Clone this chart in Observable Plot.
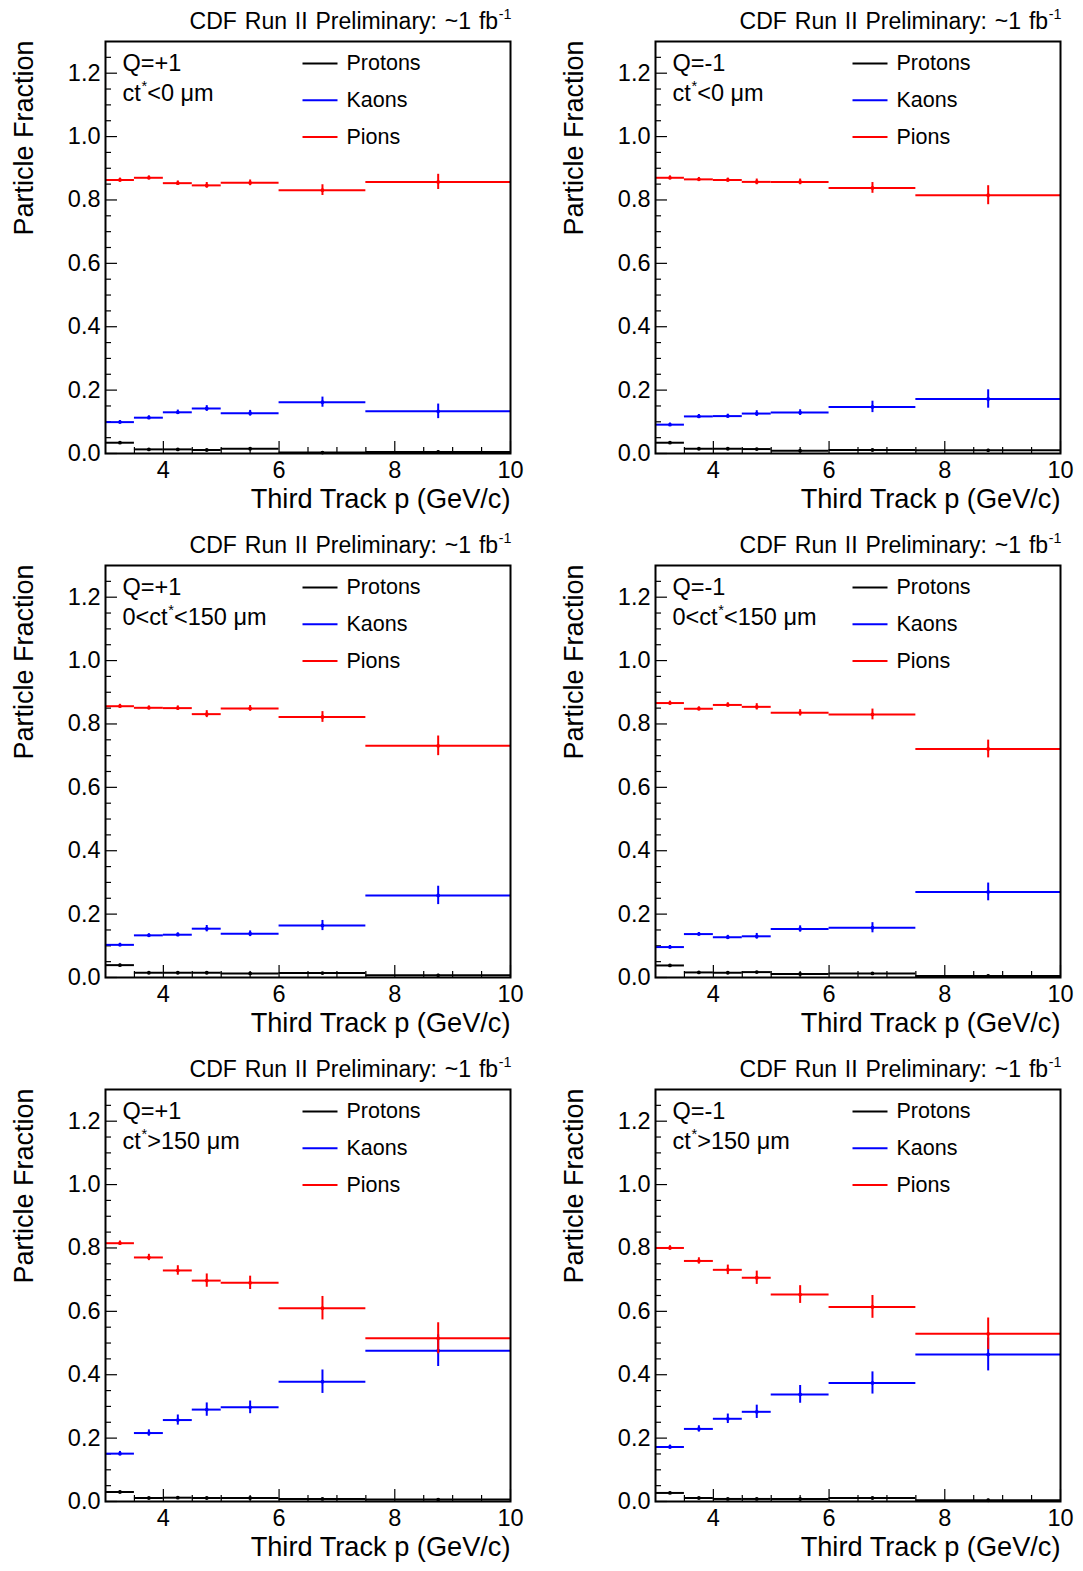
<!DOCTYPE html>
<html><head><meta charset="utf-8">
<script src="https://cdn.jsdelivr.net/npm/d3@7"></script>
<script src="https://cdn.jsdelivr.net/npm/@observablehq/plot@0.6"></script>
<style>
html,body{margin:0;padding:0;background:#fff;overflow:hidden;}
#wrap{position:relative;width:1083px;height:1571px;}
.panel{position:absolute;}
</style></head><body><div id="wrap"></div>
<script>
// ---- binning (Third Track p, GeV/c) ----
const binLo     = [3, 3.5, 4, 4.5, 5, 6, 7.5];
const binHi     = [3.5, 4, 4.5, 5, 6, 7.5, 10];
const binCenter = [3.25, 3.75, 4.25, 4.75, 5.5, 6.75, 8.75];

// ---- tick labels ----
const yMajorTicks = [0, 0.2, 0.4, 0.6, 0.8, 1.0, 1.2];
const yMinorTicks = [0.05,0.1,0.15,0.25,0.3,0.35,0.45,0.5,0.55,0.65,0.7,0.75,0.85,0.9,0.95,1.05,1.1,1.15,1.25];
const xMajorTicks = [4, 6, 8, 10];
const xMinorTicks = [3.5, 4.5, 5, 5.5, 6.5, 7, 7.5, 8.5, 9, 9.5];

const titleText = "CDF Run II Preliminary: ~1 fb^{-1}";
const legendNames = ["Protons", "Kaons", "Pions"];
const legendColors = ["#000000", "#0000ff", "#ff0000"];

// ---- panel 1: Q=+1, ct*<0 ----
const p1Protons = [0.034, 0.013, 0.013, 0.011, 0.015, 0.003, 0.005];
const p1ProtonsErr = [0.003, 0.002, 0.002, 0.002, 0.002, 0.002, 0.003];
const p1Kaons = [0.099, 0.113, 0.130, 0.142, 0.127, 0.162, 0.133];
const p1KaonsErr = [0.005, 0.006, 0.007, 0.009, 0.009, 0.016, 0.023];
const p1Pions = [0.863, 0.870, 0.853, 0.846, 0.854, 0.831, 0.857];
const p1PionsErr = [0.006, 0.006, 0.007, 0.009, 0.009, 0.017, 0.024];

// ---- panel 2: Q=-1, ct*<0 ----
const p2Protons = [0.034, 0.015, 0.015, 0.014, 0.009, 0.011, 0.010];
const p2ProtonsErr = [0.003, 0.002, 0.002, 0.002, 0.002, 0.002, 0.003];
const p2Kaons = [0.091, 0.117, 0.118, 0.126, 0.129, 0.147, 0.172];
const p2KaonsErr = [0.005, 0.006, 0.006, 0.009, 0.009, 0.018, 0.029];
const p2Pions = [0.870, 0.865, 0.863, 0.857, 0.857, 0.838, 0.815];
const p2PionsErr = [0.006, 0.006, 0.006, 0.009, 0.009, 0.017, 0.030];

// ---- panel 3: Q=+1, 0<ct*<150 ----
const p3Protons = [0.039, 0.015, 0.015, 0.015, 0.013, 0.014, 0.007];
const p3ProtonsErr = [0.003, 0.002, 0.002, 0.002, 0.002, 0.002, 0.003];
const p3Kaons = [0.103, 0.133, 0.135, 0.154, 0.138, 0.164, 0.259];
const p3KaonsErr = [0.005, 0.005, 0.006, 0.010, 0.009, 0.016, 0.029];
const p3Pions = [0.856, 0.851, 0.850, 0.831, 0.849, 0.822, 0.731];
const p3PionsErr = [0.006, 0.006, 0.007, 0.011, 0.009, 0.017, 0.031];

// ---- panel 4: Q=-1, 0<ct*<150 ----
const p4Protons = [0.038, 0.016, 0.015, 0.017, 0.011, 0.013, 0.005];
const p4ProtonsErr = [0.003, 0.002, 0.002, 0.002, 0.002, 0.002, 0.003];
const p4Kaons = [0.096, 0.137, 0.127, 0.130, 0.153, 0.157, 0.270];
const p4KaonsErr = [0.005, 0.005, 0.006, 0.009, 0.010, 0.016, 0.028];
const p4Pions = [0.866, 0.848, 0.860, 0.854, 0.835, 0.830, 0.721];
const p4PionsErr = [0.006, 0.006, 0.007, 0.010, 0.010, 0.017, 0.028];

// ---- panel 5: Q=+1, ct*>150 ----
const p5Protons = [0.030, 0.011, 0.012, 0.011, 0.011, 0.008, 0.006];
const p5ProtonsErr = [0.003, 0.002, 0.002, 0.002, 0.002, 0.002, 0.003];
const p5Kaons = [0.151, 0.216, 0.257, 0.290, 0.297, 0.378, 0.476];
const p5KaonsErr = [0.007, 0.010, 0.016, 0.021, 0.020, 0.037, 0.050];
const p5Pions = [0.815, 0.770, 0.729, 0.697, 0.690, 0.610, 0.515];
const p5PionsErr = [0.007, 0.010, 0.015, 0.021, 0.021, 0.037, 0.049];

// ---- panel 6: Q=-1, ct*>150 ----
const p6Protons = [0.027, 0.011, 0.008, 0.008, 0.008, 0.011, 0.004];
const p6ProtonsErr = [0.003, 0.002, 0.002, 0.002, 0.002, 0.002, 0.003];
const p6Kaons = [0.172, 0.229, 0.261, 0.283, 0.338, 0.374, 0.464];
const p6KaonsErr = [0.006, 0.010, 0.015, 0.021, 0.028, 0.035, 0.052];
const p6Pions = [0.800, 0.759, 0.731, 0.706, 0.653, 0.614, 0.529];
const p6PionsErr = [0.007, 0.010, 0.015, 0.021, 0.028, 0.036, 0.050];

const panelCharge = ["Q=+1", "Q=-1", "Q=+1", "Q=-1", "Q=+1", "Q=-1"];
const panelCut = ["ct^{*}<0 μm", "ct^{*}<0 μm", "0<ct^{*}<150 μm", "0<ct^{*}<150 μm", "ct^{*}>150 μm", "ct^{*}>150 μm"];

const panelSeries = [
  [[p1Protons, p1ProtonsErr], [p1Kaons, p1KaonsErr], [p1Pions, p1PionsErr]],
  [[p2Protons, p2ProtonsErr], [p2Kaons, p2KaonsErr], [p2Pions, p2PionsErr]],
  [[p3Protons, p3ProtonsErr], [p3Kaons, p3KaonsErr], [p3Pions, p3PionsErr]],
  [[p4Protons, p4ProtonsErr], [p4Kaons, p4KaonsErr], [p4Pions, p4PionsErr]],
  [[p5Protons, p5ProtonsErr], [p5Kaons, p5KaonsErr], [p5Pions, p5PionsErr]],
  [[p6Protons, p6ProtonsErr], [p6Kaons, p6KaonsErr], [p6Pions, p6PionsErr]]
];

const FONT = "'Liberation Sans', Arial, Helvetica, sans-serif";
const hline = {draw(ctx) { ctx.moveTo(-17.5, 0); ctx.lineTo(17.5, 0); }};

function supify(svg) {
  d3.select(svg).selectAll("text").each(function () {
    const t = this.textContent;
    if (t.startsWith("CDF")) d3.select(this).style("word-spacing", "1.5px");
    if (!t.includes("^{")) return;
    const sel = d3.select(this);
    sel.text(null);
    const parts = t.split(/(\^\{[^}]*\})/).filter(s => s);
    let shifted = false;
    for (const p of parts) {
      if (p.startsWith("^{")) {
        sel.append("tspan").attr("font-size", "0.62em").attr("dy", "-0.7em").attr("dx", "0.05em").text(p.slice(2, -1));
        shifted = true;
      } else {
        const ts = sel.append("tspan").text(p);
        if (shifted) { ts.attr("dy", "0.434em"); shifted = false; }
      }
    }
  });
}

function makePanel(i, width, marginRight) {
  const marks = [];
  // axes: labels
  marks.push(Plot.axisY({ticks: yMajorTicks, tickSize: 0, tickPadding: 5, tickFormat: d3.format(".1f"), fontSize: 23.5, label: null}));
  marks.push(Plot.axisX({ticks: xMajorTicks, tickSize: 0, tickPadding: 8, tickFormat: d3.format("d"), fontSize: 23.5, label: null}));
  // inward ticks
  marks.push(Plot.axisY({ticks: yMajorTicks, tickSize: 12, dx: 12, tickFormat: () => "", label: null, strokeWidth: 1.2}));
  marks.push(Plot.axisY({ticks: yMinorTicks, tickSize: 6, dx: 6, tickFormat: () => "", label: null, strokeWidth: 1.2}));
  marks.push(Plot.axisX({ticks: xMajorTicks, tickSize: 12, dy: -12, tickFormat: () => "", label: null, strokeWidth: 1.2}));
  marks.push(Plot.axisX({ticks: xMinorTicks, tickSize: 6, dy: -6, tickFormat: () => "", label: null, strokeWidth: 1.2}));

  // data
  panelSeries[i].forEach(([vals, errs], s) => {
    const rows = vals.map((v, k) => ({lo: binLo[k], hi: binHi[k], c: binCenter[k], v, e: errs[k]}));
    const color = legendColors[s];
    marks.push(Plot.ruleY(rows, {y: "v", x1: "lo", x2: "hi", stroke: color, strokeWidth: 2}));
    marks.push(Plot.ruleX(rows, {x: "c", y1: d => d.v - d.e, y2: d => d.v + d.e, stroke: color, strokeWidth: 2}));
    marks.push(Plot.dot(rows, {x: "c", y: "v", r: 1.9, fill: color, stroke: null}));
    // legend
    marks.push(Plot.dot([legendNames[s]], {frameAnchor: "top-left", dx: 214.5, dy: 22 + s * 36.8, symbol: hline, stroke: color, fill: "none", strokeWidth: 2}));
    marks.push(Plot.text([legendNames[s]], {text: d => d, frameAnchor: "top-left", dx: 241, dy: 22 + s * 36.8, lineAnchor: "middle", textAnchor: "start", fontSize: 21.5}));
  });

  marks.push(Plot.frame({stroke: "black", strokeWidth: 2}));

  // panel labels
  marks.push(Plot.text([panelCharge[i]], {text: d => d, frameAnchor: "top-left", dx: 17, dy: 29, lineAnchor: "bottom", textAnchor: "start", fontSize: 23.5}));
  marks.push(Plot.text([panelCut[i]], {text: d => d, frameAnchor: "top-left", dx: 17, dy: 59.5, lineAnchor: "bottom", textAnchor: "start", fontSize: 23.5}));
  // title
  marks.push(Plot.text([titleText], {text: d => d, frameAnchor: "top-right", dx: 1, dy: -13, lineAnchor: "bottom", textAnchor: "end", fontSize: 23}));
  // axis titles
  marks.push(Plot.text(["Third Track p (GeV/c)"], {text: d => d, frameAnchor: "bottom-right", dy: 54, lineAnchor: "bottom", textAnchor: "end", fontSize: 27.2}));
  marks.push(Plot.text(["Particle Fraction"], {text: d => d, frameAnchor: "top-left", rotate: -90, dx: -73, dy: -1, lineAnchor: "bottom", textAnchor: "end", fontSize: 27}));

  const svg = Plot.plot({
    width, height: 524,
    marginLeft: 105, marginRight, marginTop: 41, marginBottom: 71,
    x: {domain: [3, 10]},
    y: {domain: [0, 1.3]},
    style: {fontFamily: FONT, color: "black", background: "white", overflow: "visible"},
    marks
  });
  supify(svg);
  return svg;
}

const wrap = document.getElementById("wrap");
for (let i = 0; i < 6; i++) {
  const col = i % 2, row = Math.floor(i / 2);
  const div = document.createElement("div");
  div.className = "panel";
  div.style.left = (col === 0 ? 0 : 550) + "px";
  div.style.top = (row * 524) + "px";
  div.appendChild(col === 0 ? makePanel(i, 540, 30) : makePanel(i, 533, 23));
  wrap.appendChild(div);
}
</script>
</body></html>
